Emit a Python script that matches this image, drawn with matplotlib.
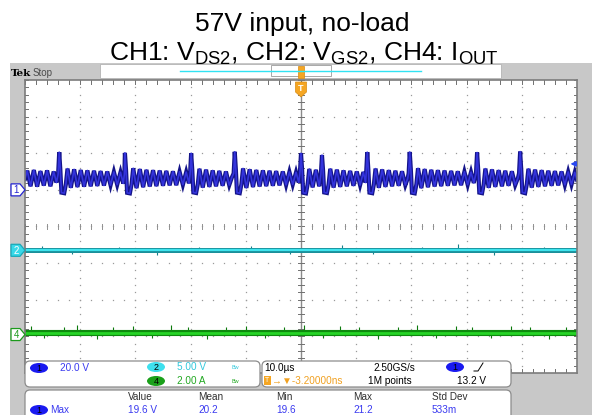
import numpy as np
import matplotlib.pyplot as plt
from matplotlib.patches import Rectangle, FancyBboxPatch, Polygon, Ellipse

plt.rcParams['font.family'] = ['Liberation Sans', 'DejaVu Sans']
plt.rcParams['mathtext.fontset'] = 'custom'
plt.rcParams['mathtext.rm'] = 'Liberation Sans'
plt.rcParams['mathtext.it'] = 'Liberation Sans:italic'
plt.rcParams['mathtext.bf'] = 'Liberation Sans:bold'

# ---- scope settings ----
TIME_PER_DIV = 10.0          # us/div
CH1_SCALE = 20.0             # V/div
CH2_SCALE = 5.0              # V/div
CH4_SCALE = 2.0              # A/div
CH1_POS, CH2_POS, CH4_POS = 1.0, -0.65, -2.95   # divisions
TRIG_LEVEL = 13.2            # V on CH1

# CH1 (V_DS2) trace, time in us, value in V
CH1_T = [-50.0, -49.6, -49.0, -48.4, -47.8, -47.2, -46.6, -46.0, -45.4, -44.8, -44.3,
         -44.0, -43.8, -43.6, -43.4, -42.9, -42.6,
         -42.3, -41.7, -41.1, -40.5, -39.9, -39.3, -38.7, -38.1, -37.5, -36.9, -36.3,
         -35.7, -35.1, -34.5, -33.9, -33.3, -32.7, -32.2,
         -32.0, -31.9, -31.7, -31.5, -31.0, -30.7,
         -30.4, -29.8, -29.2, -28.6, -28.0, -27.4, -26.8, -26.2, -25.6, -25.0, -24.4,
         -23.8, -23.2, -22.6, -22.0, -21.4, -20.8, -20.3,
         -20.1, -19.9, -19.7, -19.5, -19.0, -18.7,
         -18.4, -17.8, -17.2, -16.6, -16.0, -15.4, -14.8, -14.2, -13.6, -13.0, -12.5,
         -12.2, -12.0, -11.8, -11.6, -11.1, -10.8,
         -10.5, -9.9, -9.3, -8.7, -8.1, -7.5, -6.9, -6.3, -5.7, -5.1, -4.5, -3.9, -3.3,
         -2.7, -2.1, -1.5, -0.9, -0.4,
         -0.2, 0.0, 0.2, 0.4, 0.9, 1.2,
         1.5, 2.1, 2.7, 3.3,
         3.6, 3.8, 4.0, 4.2, 4.7, 5.0,
         5.3, 5.9, 6.5, 7.1, 7.7, 8.3, 8.9, 9.5, 10.1, 10.7, 11.3, 11.7,
         11.8, 12.0, 12.2, 12.4, 12.9, 13.2,
         13.5, 14.1, 14.7, 15.3, 15.9, 16.5, 17.1, 17.7, 18.3, 18.9, 19.3,
         19.5, 19.7, 19.9, 20.1, 20.6, 20.9,
         21.2, 21.8, 22.4, 23.0, 23.6, 24.2, 24.8, 25.4, 26.0, 26.6, 27.2, 27.8, 28.4,
         29.0, 29.6, 30.2, 30.8, 31.3,
         31.7, 31.9, 32.1, 32.3, 32.8, 33.1,
         33.4, 34.0, 34.6, 35.2, 35.8, 36.4, 37.0, 37.6, 38.2, 38.8, 39.3,
         39.5, 39.7, 39.9, 40.1, 40.6, 40.9,
         41.2, 41.8, 42.4, 43.0, 43.6, 44.2, 44.8, 45.4, 46.0, 46.6, 47.2, 47.8, 48.4,
         49.0, 49.6, 50.0]
CH1_V = [6.0, 10.5, 2.0, 10.8, 1.8, 10.2, 2.4, 10.6, 2.0, 10.0, 4.0,
         8.5, 20.6, 11.0, -1.5, -1.8, 3.0,
         11.6, 1.2, 11.2, 1.6, 10.8, 1.8, 10.6, 2.0, 10.4, 2.2, 10.2,
         2.4, 10.0, 2.6, 9.8, 2.8, 9.6, 3.5,
         8.5, 20.2, 11.0, -1.6, -1.9, 3.0,
         11.8, 1.0, 11.3, 1.5, 10.9, 1.9, 10.7, 2.1, 10.5, 2.3, 10.3,
         2.5, 10.1, 2.6, 9.9, 2.8, 9.7, 3.6,
         8.5, 20.0, 11.0, -1.4, -1.7, 3.0,
         11.5, 1.3, 11.0, 1.7, 10.6, 2.0, 10.3, 2.3, 10.0, 2.6, 7.0,
         9.0, 20.8, 11.0, -1.5, -1.8, 3.0,
         11.7, 1.1, 11.2, 1.6, 10.8, 1.9, 10.6, 2.1, 10.4, 2.3, 10.2, 2.5, 10.0,
         2.7, 9.8, 2.9, 9.6, 4.0,
         9.0, 20.0, 11.0, -1.6, -1.9, 3.0,
         11.4, 1.4, 10.9, 2.0,
         8.5, 19.0, 10.5, -1.4, -1.7, 3.0,
         11.5, 1.3, 11.0, 1.7, 10.6, 2.0, 10.3, 2.3, 10.0, 2.6, 9.7, 4.0,
         9.0, 20.6, 11.0, -1.5, -1.8, 3.0,
         11.6, 1.2, 11.1, 1.7, 10.7, 2.0, 10.4, 2.3, 10.1, 2.6, 6.0,
         9.0, 20.7, 11.0, -1.6, -1.9, 3.0,
         11.8, 1.0, 11.3, 1.5, 10.9, 1.9, 10.7, 2.1, 10.5, 2.3, 10.3, 2.5, 10.1,
         2.6, 9.9, 2.8, 9.7, 3.8,
         9.0, 20.4, 11.0, -1.5, -1.8, 3.0,
         11.6, 1.2, 11.1, 1.7, 10.7, 2.0, 10.4, 2.3, 10.1, 2.6, 6.5,
         9.0, 20.9, 11.0, -1.4, -1.8, 3.0,
         11.5, 1.3, 11.0, 1.7, 10.7, 2.0, 10.4, 2.3, 10.2, 2.5, 10.0, 2.7, 9.8,
         2.9, 9.6, 5.5]

# CH2 (V_GS2) and CH4 (I_OUT): flat, with a few noise ticks
CH2_LEVEL = 0.0
CH2_NOISE_T = [-47.0, -41.5, -33.0, -26.0, -18.5, -9.0, -2.0, 7.5, 13.0, 22.0, 28.5, 35.0, 44.0]
CH2_NOISE_V = [0.6, -0.5, 0.5, -0.6, 0.5, 0.6, -0.5, 0.7, -0.5, 0.5, 0.9, -0.6, 0.5]
CH4_LEVEL = 0.1
CH4_NOISE_T = [-49.0, -46.5, -43.0, -40.5, -37.0, -34.0, -30.5, -27.0, -23.5, -20.5,
               -17.0, -13.5, -10.0, -6.5, -3.0, 0.5, 4.0, 7.0, 10.5, 14.0, 17.5, 21.0,
               24.5, 28.0, 31.0, 34.5, 38.0, 41.5, 45.0, 48.0]
CH4_NOISE_A = [0.35, -0.3, 0.3, 0.4, -0.35, 0.3, 0.35, -0.3, 0.4, 0.3, -0.35, 0.3,
               0.35, -0.3, 0.3, 0.4, -0.3, 0.35, 0.3, -0.35, 0.3, 0.4, -0.3, 0.35,
               0.3, -0.3, 0.35, 0.3, -0.35, 0.3]

# ---- layout in pixels ----
W, H = 592, 415
GX0, GX1, GY0, GY1 = 25, 577, 80, 373
CY = (GY0 + GY1) / 2
DIVY = (GY1 - GY0) / 8


def ypix(div):
    return CY - div * DIVY


fig = plt.figure(figsize=(W / 100, H / 100), dpi=100)
bg = fig.add_axes([0, 0, 1, 1], zorder=0)
bg.set_xlim(0, W)
bg.set_ylim(H, 0)
bg.axis('off')
bg.add_patch(Rectangle((10, 63), W - 10, H - 63, fc='#c8c8c8', ec='none'))

# titles
bg.text(302, 31, "57V input, no-load", ha='center', va='baseline', fontsize=19)
bg.text(304, 61, r"CH1: V$_\mathrm{DS2}$, CH2: V$_\mathrm{GS2}$, CH4: I$_\mathrm{OUT}$",
        ha='center', va='baseline', fontsize=19)

# graticule
sc = fig.add_axes([GX0 / W, 1 - GY1 / H, (GX1 - GX0) / W, (GY1 - GY0) / H], zorder=1)
sc.set_xlim(-5 * TIME_PER_DIV, 5 * TIME_PER_DIV)
sc.set_ylim(-4, 4)
sc.set_xticks([])
sc.set_yticks([])
sc.set_facecolor('white')
for s in sc.spines.values():
    s.set_color('#7c7c7c')
    s.set_linewidth(1.2)

xmin_t = np.arange(-50, 50.1, 2.0)
ymin_d = np.arange(-4, 4.01, 0.2)
dot = dict(ls='none', marker='s', ms=0.9, mec='none', mfc='#9a9a9a')
for xm in np.arange(-40, 41, 10):
    if xm != 0:
        sc.plot(np.full_like(ymin_d, xm), ymin_d, **dot)
for ym in range(-3, 4):
    if ym != 0:
        sc.plot(xmin_t, np.full_like(xmin_t, ym), **dot)
# centre cross with ticks
sc.axvline(0, color='#8a8a8a', lw=1.0)
sc.plot(xmin_t, np.zeros_like(xmin_t), **dot)
for yy in ymin_d:
    sc.plot([-0.5, 0.5], [yy, yy], color='#707070', lw=0.7)
    sc.plot([-50, -49.4], [yy, yy], color='#707070', lw=0.7)
    sc.plot([49.4, 50], [yy, yy], color='#707070', lw=0.7)
for xx in xmin_t:
    sc.plot([xx, xx], [-0.06, 0.06], color='#909090', lw=0.7)
    sc.plot([xx, xx], [3.9, 4], color='#707070', lw=0.7)
    sc.plot([xx, xx], [-4, -3.9], color='#707070', lw=0.7)

# traces
ch4 = np.array(CH4_LEVEL) / CH4_SCALE + CH4_POS
sc.vlines(CH4_NOISE_T, ch4, ch4 + np.array(CH4_NOISE_A) / CH4_SCALE, color='#0c7a0c', lw=0.8)
sc.axhline(ch4, color='#0d8a0d', lw=4.4)
sc.axhline(ch4, color='#26d426', lw=2.0)

ch2 = CH2_LEVEL / CH2_SCALE + CH2_POS
sc.vlines(CH2_NOISE_T, ch2, ch2 + np.array(CH2_NOISE_V) / CH2_SCALE, color='#17808a', lw=0.8)
sc.axhline(ch2, color='#1b8f9a', lw=3.6)
sc.axhline(ch2, color='#3fe4ee', lw=1.6)

ch1 = np.array(CH1_V) / CH1_SCALE + CH1_POS
sc.plot(CH1_T, ch1, color='#14148a', lw=3.0, solid_joinstyle='miter')
sc.plot(CH1_T, ch1, color='#3434dc', lw=1.2)

# trigger level arrow on the right
lvl = TRIG_LEVEL / CH1_SCALE + CH1_POS
sc.annotate('', xy=(48.3, lvl + 0.05), xytext=(50, lvl + 0.05), zorder=10,
            arrowprops=dict(arrowstyle='-|>', color='#2848f0', lw=1.2, mutation_scale=7))

# overlay: status bar, markers, readouts
ov = fig.add_axes([0, 0, 1, 1], zorder=3)
ov.set_xlim(0, W)
ov.set_ylim(H, 0)
ov.axis('off')

ov.text(11, 76, "Tek", fontsize=7.5, fontweight='bold', family='DejaVu Serif')
ov.text(33, 76, "Stop", fontsize=7, color='#4a4a4a')
ov.add_patch(Rectangle((100, 64), 401, 14, fc='white', ec='#b4b4b4', lw=0.6))
ov.plot([180, 421], [71.5, 71.5], color='#30e2f2', lw=1.0)
ov.add_patch(Rectangle((271, 65.5), 60, 11, fc='none', ec='#a8a8a8', lw=0.7))
ov.add_patch(Rectangle((298, 66), 6, 12, fc='#f5a623', ec='#d88a10', lw=0.5))
ov.add_patch(Polygon([(295.5, 82), (306.5, 82), (306.5, 92), (301, 97), (295.5, 92)],
                     closed=True, fc='#f5a623', ec='#d88a10', lw=0.5))
ov.text(301, 88.5, "T", color='white', fontsize=6.5, ha='center', va='center', fontweight='bold')

# channel ground markers
for pos, fc, ec, tc, lab in [(CH1_POS, 'white', '#2424d0', '#2424d0', '1'),
                             (CH2_POS, '#38d8e8', '#1aa8b8', 'white', '2'),
                             (CH4_POS, 'white', '#1c9a1c', '#1c9a1c', '4')]:
    y = ypix(pos)
    ov.add_patch(Polygon([(11, y - 6), (20, y - 6), (25, y), (20, y + 6), (11, y + 6)],
                         closed=True, fc=fc, ec=ec, lw=0.9))
    ov.text(16.5, y + 0.5, lab, color=tc, fontsize=7, ha='center', va='center')

# readout boxes
box = dict(boxstyle='round,pad=0,rounding_size=5', fc='white', ec='#8c8c8c', lw=0.9)
ov.add_patch(FancyBboxPatch((25, 361), 235, 26, **box))
ov.add_patch(FancyBboxPatch((262, 361), 249, 26, **box))
ov.add_patch(FancyBboxPatch((25, 390), 486, 40, **box))

fs = 7.2
blue = '#3a3af0'


def badge(x, y, fc, lab):
    ov.add_patch(Ellipse((x, y), 18, 10, fc=fc, ec='none'))
    ov.text(x, y + 0.3, lab, fontsize=6.5, ha='center', va='center', color='black')


badge(39, 368, '#1a1af0', '1')
ov.text(60, 368, "20.0 V", fontsize=fs, color=blue, va='center')
badge(156, 367, '#3ee0ee', '2')
ov.text(177, 367, "5.00 V", fontsize=fs, color='#30c8dc', va='center')
ov.text(232, 367, "Bw", fontsize=4, color='#30c8dc', va='center')
badge(156, 381, '#1aa01a', '4')
ov.text(177, 381, "2.00 A", fontsize=fs, color='#22a822', va='center')
ov.text(232, 381, "Bw", fontsize=4, color='#22a822', va='center')

ov.text(264, 368, "10.0\u00b5s", fontsize=fs, va='center')
ov.text(373, 368, "2.50GS/s", fontsize=fs, va='center')
badge(455, 367, '#1a1af0', '1')
ov.plot([474, 478, 483], [371, 371, 363], color='black', lw=0.7)
ov.add_patch(Rectangle((264, 376), 7, 9, fc='#f5a623', ec='none'))
ov.text(267.5, 380.7, "T", fontsize=5, color='white', ha='center', va='center')
ov.text(272, 381, "\u2192\u25bc-3.20000ns", fontsize=fs, color='#f0a020', va='center')
ov.text(368, 381, "1M points", fontsize=fs, va='center')
ov.text(457, 381, "13.2 V", fontsize=fs, va='center')

for x, lab in [(128, "Value"), (198, "Mean"), (276, "Min"), (353, "Max"), (432, "Std Dev")]:
    ov.text(x, 397, lab, fontsize=fs, color='#303030', va='center')
badge(39, 410, '#1a1af0', '1')
for x, lab in [(50, "Max"), (128, "19.6 V"), (198, "20.2"), (276, "19.6"), (353, "21.2"), (432, "533m")]:
    ov.text(x, 410, lab, fontsize=fs, color=blue, va='center')

fig.savefig("out.png", dpi=100)
plt.close(fig)
